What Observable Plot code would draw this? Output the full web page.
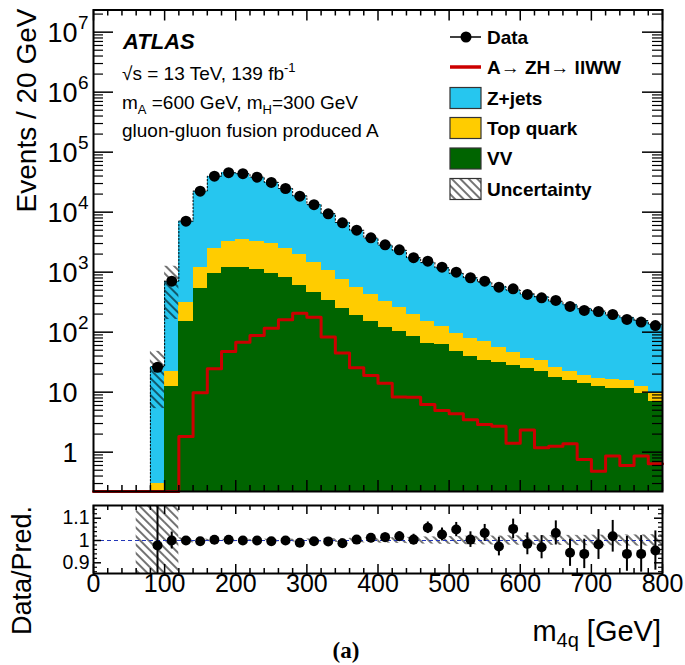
<!DOCTYPE html>
<html><head><meta charset="utf-8">
<script src="https://cdn.jsdelivr.net/npm/d3@7"></script>
<script src="https://cdn.jsdelivr.net/npm/@observablehq/plot@0.6"></script>
<style>
body{margin:0;background:#fff;}
#wrap{position:relative;width:685px;height:665px;overflow:hidden;}
#main,#ratio{position:absolute;left:0;}
#main{top:0;} #ratio{top:495px;}
</style></head><body>
<svg width="0" height="0" style="position:absolute"><defs>
<pattern id="hatch" width="6" height="6" patternUnits="userSpaceOnUse" patternTransform="rotate(-45)">
<line x1="1" y1="-1" x2="1" y2="7" stroke="#000" stroke-width="1.1"/>
</pattern></defs></svg>
<div id="wrap"><div id="main"></div><div id="ratio"></div></div>
<script>
// ---- data (bins of 20 GeV, low edges) ----
const binLow = [80,100,120,140,160,180,200,220,240,260,280,300,320,340,360,380,400,420,440,460,480,500,520,540,560,580,600,620,640,660,680,700,720,740,760,780];
const dataCounts = [26,708,7080,22400,39800,45400,43700,38300,31300,24800,18500,13300,9400,6650,5010,3740,2860,2360,1740,1525,1211,1000,807,708,562,528,425,374,338,268,230,221,197,163,147,129];
const zjets = [26.3,686,6760,21280,37230,42010,40230,35010,28420,22350,16740,11900,8370,5980,4430,3280,2490,2055,1536,1291,1053,857,725,615,522,456,394,352,301,262,226,208,177,157,143,126];
const topQuark = [0.30,9.8,167,654,1488,2067,2287,2194,2030,1643,1350,981,729,504,372,269,208,157,111,88,64,48,39,36,25,18,12.4,11.6,8.2,6.3,4.9,4.3,4.4,4.3,3.0,2.3];
const vvBkg = [0,12.6,149,529,962,1183,1183,1096,940,807,600,454,338,251,190,151,121,104,86,64,62,48,40,34,31,28,24.6,22.4,17.8,15.7,14.1,12.4,11.7,11.4,9.6,7.1];
const ratio = [0.978,1.0,1.0,0.997,1.003,1.003,1.0,1.0,0.997,1.0,0.99,0.997,0.996,0.988,1.004,1.012,1.015,1.019,1.004,1.057,1.027,1.049,1.004,1.034,0.973,1.052,0.985,0.97,1.034,0.945,0.94,0.982,1.019,0.94,0.94,0.955];
const ratioErr = [0.2,0.038,0.012,0.007,0.005,0.005,0.005,0.005,0.006,0.006,0.007,0.009,0.01,0.012,0.014,0.016,0.019,0.021,0.024,0.026,0.029,0.032,0.035,0.038,0.042,0.044,0.049,0.052,0.054,0.061,0.066,0.067,0.071,0.078,0.082,0.088];
// signal A -> ZH -> llWW
const sigLow = [0,20,40,60,80,100,120,140,160,180,200,220,240,260,280,300,320,340,360,380,400,420,440,460,480,500,520,540,560,580,600,620,640,660,680,700,720,740,760,780];
const signal = [0,0,0,0,0,0,1.83,9.8,24.5,47.7,68,88,116,161,207,178,83,45,25.5,19,14.1,8.3,8.2,6.2,4.95,4.36,3.47,2.9,2.71,1.41,2.33,1.18,1.26,1.38,0.755,0.48,0.86,0.6,0.86,0.64];
// relative systematic uncertainty of the prediction
const uncLow = [60,80,100,120,140,160,180,200,220,240,260,280,300,320,340,360,380,400,420,440,460,480,500,520,540,560,580,600,620,640,660,680,700,720,740,760,780];
const uncRel = [1.0,0.8,0.77,0.012,0.006,0.005,0.005,0.005,0.005,0.006,0.006,0.007,0.007,0.008,0.009,0.01,0.011,0.012,0.013,0.014,0.016,0.017,0.018,0.019,0.02,0.02,0.021,0.021,0.022,0.022,0.023,0.023,0.024,0.024,0.025,0.025,0.026];
// axis ticks and labels
const xTicks = [0,100,200,300,400,500,600,700,800];
const xTickLabels = ["0","100","200","300","400","500","600","700","800"];
const yDecades = [1,10,100,1000,10000,100000,1000000,10000000];
const yDecadeBase = ["1","10","10","10","10","10","10","10"];
const yDecadeExp = ["","","2","3","4","5","6","7"];
const rTicks = [0.9,1,1.1];
const rTickLabels = ["0.9","1","1.1"];

const BW = 20;
const yMin = 0.221, yMax = 2.34e7;
const FONT = "Liberation Sans, Arial, Helvetica, sans-serif";
const C_Z = "#26c6ef", C_TOP = "#ffcc00", C_VV = "#006400", C_SIG = "#cc0000";

const rows = binLow.map((lo, i) => {
  const g = vvBkg[i], t = g + topQuark[i], z = t + zjets[i];
  return {x1: lo, x2: lo + BW, xc: lo + BW / 2,
    g0: yMin, g1: Math.max(g, yMin), t0: Math.max(g, yMin), t1: Math.max(t, yMin),
    z0: Math.max(t, yMin), z1: z, n: dataCounts[i], r: ratio[i], e: ratioErr[i]};
});
const totalByLow = new Map(rows.map(d => [d.x1, d.z1]));
const uncRows = uncLow.map((lo, i) => ({x1: lo, x2: lo + BW, rel: uncRel[i], tot: totalByLow.get(lo)}));
const outline = [{x: binLow[0], y: yMin}, ...rows.map(d => ({x: d.x1, y: d.z1})), {x: 800, y: rows[rows.length - 1].z1}];
const sigLine = [...sigLow.map((lo, i) => ({x: lo, y: Math.max(signal[i], yMin)})), {x: 800, y: Math.max(signal[signal.length - 1], yMin)}];

const xMinor = d3.range(0, 801, 20).filter(v => v % 100 !== 0);
const yMinor = [];
for (let e = -1; e <= 7; e++) for (let k = 2; k <= 9; k++) { const v = k * Math.pow(10, e); if (v > yMin && v < yMax) yMinor.push(v); }

const mL = 93, mR = 23, W = 685;
const frameW = W - mL - mR;
const mainH = 500, mT = 9.5, mB = 9;
const frameH = mainH - mT - mB;

const mainPlot = Plot.plot({
  width: W, height: mainH, marginLeft: mL, marginRight: mR, marginTop: mT, marginBottom: mB,
  style: {fontFamily: FONT, color: "black", background: "white"},
  x: {domain: [0, 800], axis: null},
  y: {type: "log", domain: [yMin, yMax], axis: null},
  marks: [
    Plot.rect(rows, {x1: "x1", x2: "x2", y1: "z0", y2: "z1", fill: C_Z, shapeRendering: "crispEdges"}),
    Plot.rect(rows.filter(d => d.t1 > d.t0), {x1: "x1", x2: "x2", y1: "t0", y2: "t1", fill: C_TOP, shapeRendering: "crispEdges"}),
    Plot.rect(rows.filter(d => d.g1 > d.g0), {x1: "x1", x2: "x2", y1: "g0", y2: "g1", fill: C_VV, shapeRendering: "crispEdges"}),
    Plot.rect(uncRows.filter(d => d.tot), {x1: "x1", x2: "x2", y1: d => Math.max(d.tot * (1 - d.rel), yMin), y2: d => d.tot * (1 + d.rel), fill: "url(#hatch)", clip: true}),
    Plot.line(outline, {x: "x", y: "y", curve: "step-after", stroke: "black", strokeWidth: 1, strokeDasharray: "1.5,2"}),
    Plot.line(sigLine, {x: "x", y: "y", curve: "step-after", stroke: C_SIG, strokeWidth: 3}),
    Plot.dot(rows, {x: "xc", y: "n", r: 5.5, fill: "black"}),
    // ticks (inside the frame)
    Plot.tickX(xTicks, {x: d => d, insetTop: frameH - 11, stroke: "black", strokeWidth: 1.5}),
    Plot.tickX(xTicks, {x: d => d, insetBottom: frameH - 11, stroke: "black", strokeWidth: 1.5}),
    Plot.tickX(xMinor, {x: d => d, insetTop: frameH - 6, stroke: "black", strokeWidth: 1.5}),
    Plot.tickX(xMinor, {x: d => d, insetBottom: frameH - 6, stroke: "black", strokeWidth: 1.5}),
    Plot.tickY(yDecades, {y: d => d, insetRight: frameW - 20, stroke: "black", strokeWidth: 1.5}),
    Plot.tickY(yDecades, {y: d => d, insetLeft: frameW - 20, stroke: "black", strokeWidth: 1.5}),
    Plot.tickY(yMinor, {y: d => d, insetRight: frameW - 10, stroke: "black", strokeWidth: 1.2}),
    Plot.tickY(yMinor, {y: d => d, insetLeft: frameW - 10, stroke: "black", strokeWidth: 1.2}),
    Plot.frame({stroke: "black", strokeWidth: 2}),
    // y tick labels
    Plot.text(yDecades, {y: d => d, text: (d, i) => yDecadeBase[i], frameAnchor: "left", textAnchor: "end", dx: -16, dy: 1, fontSize: 27}),
    Plot.text(yDecades, {y: d => d, text: (d, i) => yDecadeExp[i], frameAnchor: "left", textAnchor: "start", dx: -15.5, dy: -9, fontSize: 19}),
    // y axis title
    Plot.text(["Events / 20 GeV"], {frameAnchor: "top-left", text: d => d, rotate: -90, textAnchor: "end", dx: -77, dy: -1.5, fontSize: 28})
  ]
});
document.getElementById("main").appendChild(mainPlot);

// annotations & legend
const ann = d3.select(mainPlot).append("g").attr("font-family", FONT).attr("fill", "black").attr("text-anchor", "start");
ann.append("text").attr("x", 123).attr("y", 48.5).attr("font-size", 22).attr("font-weight", "bold").attr("font-style", "italic").text("ATLAS");
const t1 = ann.append("text").attr("x", 122).attr("y", 80).attr("font-size", 19);
t1.append("tspan").text("\u221As = 13 TeV, 139 fb");
t1.append("tspan").attr("font-size", 13).attr("dy", -8).text("-1");
const t2 = ann.append("text").attr("x", 122).attr("y", 109).attr("font-size", 19);
t2.append("tspan").text("m");
t2.append("tspan").attr("font-size", 13).attr("dy", 5).text("A");
t2.append("tspan").attr("dy", -5).text(" =600 GeV, m");
t2.append("tspan").attr("font-size", 13).attr("dy", 5).text("H");
t2.append("tspan").attr("dy", -5).text("=300 GeV");
ann.append("text").attr("x", 122).attr("y", 137).attr("font-size", 19).text("gluon-gluon fusion produced A");

const leg = ann.append("g").attr("font-size", 19).attr("font-weight", "bold");
leg.append("line").attr("x1", 450).attr("x2", 481).attr("y1", 37).attr("y2", 37).attr("stroke", "black").attr("stroke-width", 1.5);
leg.append("circle").attr("cx", 466).attr("cy", 37).attr("r", 5.5).attr("fill", "black");
leg.append("text").attr("x", 487).attr("y", 44).text("Data");
leg.append("line").attr("x1", 450).attr("x2", 481).attr("y1", 67).attr("y2", 67).attr("stroke", C_SIG).attr("stroke-width", 3.5);
const sl = leg.append("text").attr("x", 487).attr("y", 74);
sl.append("tspan").text("A");
sl.append("tspan").attr("font-weight", "normal").text("\u2192");
sl.append("tspan").text(" ZH");
sl.append("tspan").attr("font-weight", "normal").text("\u2192");
sl.append("tspan").text(" llWW");
const boxes = [["Z+jets", C_Z, 87.5], ["Top quark", C_TOP, 117.5], ["VV", C_VV, 148], ["Uncertainty", "url(#hatch)", 178.5]];
for (const [lab, col, y] of boxes) {
  if (col.startsWith("url")) leg.append("rect").attr("x", 450).attr("y", y).attr("width", 31).attr("height", 21).attr("fill", "white");
  leg.append("rect").attr("x", 450).attr("y", y).attr("width", 31).attr("height", 21).attr("fill", col).attr("stroke", "#333").attr("stroke-width", 1.2);
  leg.append("text").attr("x", 487).attr("y", y + 17).text(lab);
}

// ---- ratio panel ----
const rH = 170, rT = 10, rB = 92;
const rFrameH = rH - rT - rB;
const rMinor = [0.86,0.88,0.92,0.94,0.96,0.98,1.02,1.04,1.06,1.08,1.12,1.14];
const ratioPlot = Plot.plot({
  width: W, height: rH, marginLeft: mL, marginRight: mR, marginTop: rT, marginBottom: rB,
  style: {fontFamily: FONT, color: "black", background: "white"},
  x: {domain: [0, 800], axis: null},
  y: {domain: [0.852, 1.157], axis: null},
  marks: [
    Plot.rect(uncRows, {x1: "x1", x2: "x2", y1: d => 1 - d.rel, y2: d => 1 + d.rel, fill: "url(#hatch)", clip: true}),
    Plot.ruleY([1], {stroke: "#2236b8", strokeDasharray: "4,3", strokeWidth: 1}),
    Plot.ruleX(rows, {x: "xc", y1: d => d.r - d.e, y2: d => d.r + d.e, stroke: "black", strokeWidth: 2, clip: true}),
    Plot.dot(rows, {x: "xc", y: "r", r: 5, fill: "black"}),
    Plot.tickX(xTicks, {x: d => d, insetTop: rFrameH - 9, stroke: "black", strokeWidth: 1.5}),
    Plot.tickX(xTicks, {x: d => d, insetBottom: rFrameH - 9, stroke: "black", strokeWidth: 1.5}),
    Plot.tickX(xMinor, {x: d => d, insetTop: rFrameH - 5, stroke: "black", strokeWidth: 1.5}),
    Plot.tickX(xMinor, {x: d => d, insetBottom: rFrameH - 5, stroke: "black", strokeWidth: 1.5}),
    Plot.tickY(rTicks, {y: d => d, insetRight: frameW - 8, stroke: "black", strokeWidth: 1.5}),
    Plot.tickY(rTicks, {y: d => d, insetLeft: frameW - 8, stroke: "black", strokeWidth: 1.5}),
    Plot.tickY(rMinor, {y: d => d, insetRight: frameW - 4, stroke: "black", strokeWidth: 1.2}),
    Plot.tickY(rMinor, {y: d => d, insetLeft: frameW - 4, stroke: "black", strokeWidth: 1.2}),
    Plot.frame({stroke: "black", strokeWidth: 2}),
    Plot.text(rTicks, {y: d => d, text: (d, i) => rTickLabels[i], frameAnchor: "left", textAnchor: "end", dx: -4, fontSize: 19.5}),
    Plot.text(xTicks, {x: d => d, text: (d, i) => xTickLabels[i], frameAnchor: "bottom", dy: 18, fontSize: 25}),
    Plot.text(["Data/Pred."], {frameAnchor: "left", text: d => d, rotate: -90, textAnchor: "middle", dx: -71, dy: 31, fontSize: 27})
  ]
});
document.getElementById("ratio").appendChild(ratioPlot);
const ra = d3.select(ratioPlot).append("g").attr("fill", "black");
const xt = ra.append("text").attr("x", 661).attr("y", 146).attr("text-anchor", "end").attr("font-family", FONT).attr("font-size", 29);
xt.append("tspan").text("m");
xt.append("tspan").attr("font-size", 20).attr("dy", 6).text("4q");
xt.append("tspan").attr("dy", -6).text(" [GeV]");
ra.append("text").attr("x", 346).attr("y", 163).attr("text-anchor", "middle").attr("font-family", "Liberation Serif, Times New Roman, serif").attr("font-weight", "bold").attr("font-size", 23).text("(a)");
</script>
</body></html>
